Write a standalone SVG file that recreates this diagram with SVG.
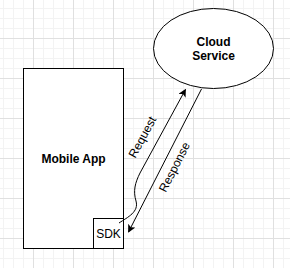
<svg xmlns="http://www.w3.org/2000/svg" width="290" height="268" viewBox="0 0 290 268">
<style>
.minor{stroke:#f3f3f3;stroke-width:1;fill:none}
.major{stroke:#e0e0e0;stroke-width:1;fill:none}
.shape{fill:#ffffff;stroke:#000000;stroke-width:1}
.edge{fill:none;stroke:#000000;stroke-width:1}
.lbl{font-family:"Liberation Sans",Arial,sans-serif;font-size:12px;fill:#000000;text-anchor:middle}
.b{font-weight:bold}
</style>
<defs>
<marker id="arr" viewBox="0 0 10 10" refX="9" refY="5" markerWidth="8" markerHeight="8" markerUnits="userSpaceOnUse" orient="auto">
<path d="M0,0 L10,5 L0,10 L2.5,5 Z" fill="#000"/>
</marker>
</defs>
<rect width="290" height="268" fill="#ffffff"/>
<g id="grid">
<path class="minor" d="M3.5,0V268M13.5,0V268M23.5,0V268M43.5,0V268M53.5,0V268M63.5,0V268M83.5,0V268M93.5,0V268M103.5,0V268M123.5,0V268M133.5,0V268M143.5,0V268M163.5,0V268M173.5,0V268M183.5,0V268M203.5,0V268M213.5,0V268M223.5,0V268M243.5,0V268M253.5,0V268M263.5,0V268M283.5,0V268"/>
<path class="minor" d="M0,8.5H290M0,18.5H290M0,28.5H290M0,48.5H290M0,58.5H290M0,68.5H290M0,88.5H290M0,98.5H290M0,108.5H290M0,128.5H290M0,138.5H290M0,148.5H290M0,168.5H290M0,178.5H290M0,188.5H290M0,208.5H290M0,218.5H290M0,228.5H290M0,248.5H290M0,258.5H290"/>
<path class="major" d="M33.5,0V268M73.5,0V268M113.5,0V268M153.5,0V268M193.5,0V268M233.5,0V268M273.5,0V268M0,38.5H290M0,78.5H290M0,118.5H290M0,158.5H290M0,198.5H290M0,238.5H290"/>
</g>
<g id="mobile-app">
<rect class="shape" x="23.5" y="68.5" width="100" height="180"/>
<text class="lbl b" x="73.5" y="163">Mobile App</text>
</g>
<g id="sdk">
<rect class="shape" x="93.5" y="218.5" width="30" height="30"/>
<text class="lbl" x="108.5" y="238">SDK</text>
</g>
<g id="cloud-service">
<ellipse class="shape" cx="213.5" cy="48.5" rx="60" ry="40"/>
<text class="lbl b" x="213.5" y="46">Cloud</text>
<text class="lbl b" x="213.5" y="59.5">Service</text>
</g>
<g id="connectors">
<path class="edge" d="M119,223 C128,217 139,212 136,201 C133,191 135,183 140,173 L185.5,89.5" marker-end="url(#arr)"/>
<path class="edge" d="M201.5,89 L128.5,232" marker-end="url(#arr)"/>
<text class="lbl" transform="translate(146,139) rotate(-61.5)">Request</text>
<text class="lbl" transform="translate(178,169) rotate(-63)">Response</text>
</g>
</svg>
